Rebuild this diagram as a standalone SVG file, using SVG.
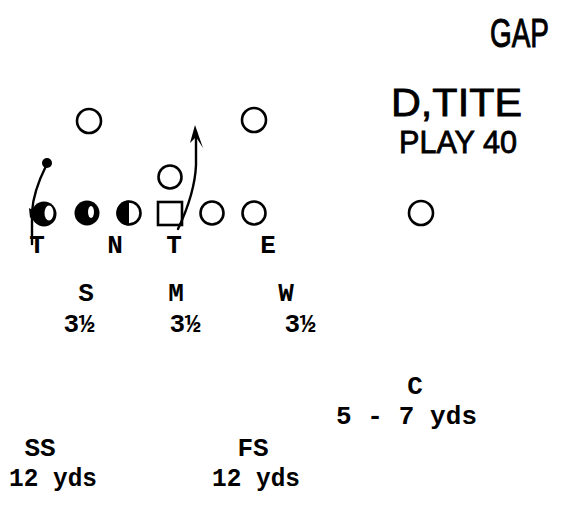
<svg xmlns="http://www.w3.org/2000/svg" width="563" height="508" viewBox="0 0 563 508">
<style>
.t{font-family:"Liberation Mono","DejaVu Sans Mono",monospace;font-size:26px;font-weight:bold;fill:#000}
.m{text-anchor:middle}
.h{font-family:"Liberation Sans","DejaVu Sans",sans-serif;fill:#000;stroke:#000;stroke-width:0.8}
.p{fill:none;stroke:#000;stroke-width:2.6}
.ln{fill:none;stroke:#000;stroke-width:2.4;stroke-linecap:round}
</style>
<rect width="563" height="508" fill="#fff"/>
<g id="notes">
<text class="h" transform="translate(490,47) scale(1,1.25)" x="0" y="0" font-size="33" textLength="59" lengthAdjust="spacingAndGlyphs">GAP</text>
<text class="h" x="391" y="116" font-size="39" textLength="131" lengthAdjust="spacingAndGlyphs">D,TITE</text>
<text class="h" x="399" y="153" font-size="31" textLength="118" lengthAdjust="spacingAndGlyphs">PLAY 40</text>
</g>
<g id="offense">
<g id="o-top-left"><circle class="p" cx="89" cy="121" r="12"/></g>
<g id="o-top-right"><circle class="p" cx="254" cy="120" r="12"/></g>
<g id="o-back"><circle class="p" cx="170" cy="177" r="11.5"/></g>
<g id="o-1"><circle cx="44" cy="214" r="12.5" fill="#000"/><ellipse cx="49" cy="213" rx="4.5" ry="7.5" fill="#fff"/></g>
<g id="o-2"><circle cx="87" cy="213" r="12.5" fill="#000"/><ellipse cx="91" cy="212" rx="3" ry="6" fill="#fff"/></g>
<g id="o-3"><circle class="p" cx="129" cy="213" r="11.5"/><path d="M129,200.5 A12.5,12.5 0 0 0 129,225.5 Z" fill="#000"/></g>
<g id="o-center"><rect class="p" x="158" y="202" width="24" height="23"/></g>
<g id="o-5"><circle class="p" cx="212" cy="213" r="11.5"/></g>
<g id="o-6"><circle class="p" cx="254" cy="213" r="11.5"/></g>
<g id="o-far"><circle class="p" cx="421" cy="213" r="12" stroke-width="3.2"/></g>
</g>
<g id="connectors">
<circle cx="47" cy="163" r="5" fill="#000"/>
<path class="ln" d="M46,166 C39,180 33,196 32,212 L32,244"/>
<path d="M29,208 L38,213 L30,218 Z" fill="#000"/>
<path class="ln" d="M178,229 C186,212 195,190 196,165 L196,132"/>
<path d="M195,125 L190,143 L196,137 L203,148 Z" fill="#000"/>
</g>
<g id="labels">
<text class="t m" x="37" y="253">T</text>
<text class="t m" x="115" y="253">N</text>
<text class="t m" x="174" y="253">T</text>
<text class="t m" x="268" y="253">E</text>
<text class="t m" x="86" y="301">S</text>
<text class="t m" x="176" y="301">M</text>
<text class="t m" x="286" y="301">W</text>
<text class="t m" x="79" y="332">3½</text>
<text class="t m" x="185" y="332">3½</text>
<text class="t m" x="300" y="332">3½</text>
<text class="t m" x="415" y="394">C</text>
<text class="t" x="336" y="424" textLength="141" lengthAdjust="spacing">5 - 7 yds</text>
<text class="t m" x="40" y="456">SS</text>
<text class="t" x="9" y="486" textLength="88" lengthAdjust="spacingAndGlyphs">12 yds</text>
<text class="t m" x="253" y="456">FS</text>
<text class="t" x="212" y="486" textLength="88" lengthAdjust="spacingAndGlyphs">12 yds</text>
</g>
</svg>
